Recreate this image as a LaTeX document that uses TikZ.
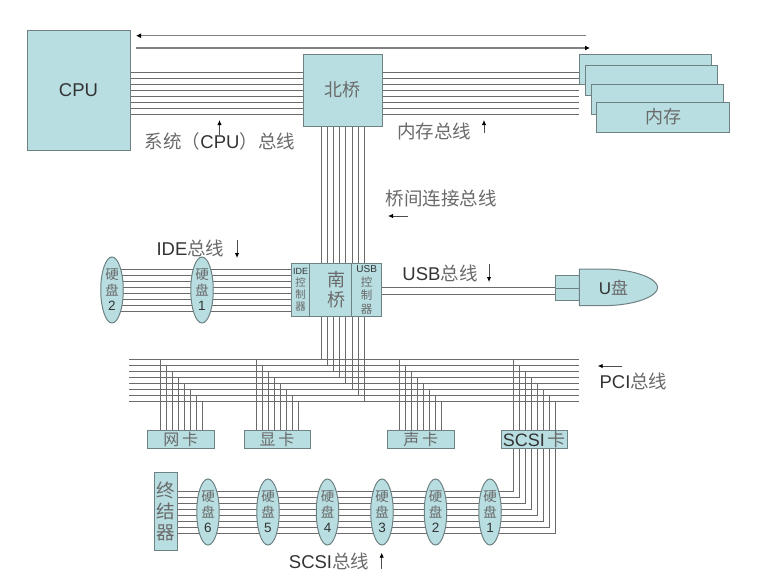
\documentclass[tikz,border=0pt]{standalone}
\usepackage{fontspec}
\setmainfont{Liberation Sans}
\newfontfamily\cjk{Noto Sans CJK SC}
\usetikzlibrary{shapes.geometric,backgrounds,arrows.meta}
\definecolor{boxfill}{HTML}{B8DEE1}
\definecolor{boxline}{HTML}{6E8284}
\definecolor{zhgray}{HTML}{6A6A6A}
\definecolor{engray}{HTML}{333333}
\newcommand{\zh}[1]{{\cjk\color{zhgray}#1}}
\newcommand{\fs}[1]{\fontsize{#1}{#1}\selectfont}
\tikzset{
	chip/.style={draw=boxline, fill=boxfill, line width=1pt, inner sep=0pt, text=engray},
	disk/.style={chip, ellipse, minimum width=22.5pt, minimum height=66pt, align=center, font=\fontsize{13.5}{15.5}\selectfont},
	busline/.style={draw=black!58, line width=0.9pt},
	farrow/.style={draw=black!50, line width=1.4pt, -{Latex[black,length=5pt,width=5pt]}},
	tick/.style={draw=black!70, line width=0.9pt, -{Latex[black,length=5pt,width=4.5pt]}},
	buslabel/.style={text=engray, inner sep=0pt, font=\fs{18.5}}
}
\begin{document}
\begin{tikzpicture}[x=1pt, y=-1pt]
\useasboundingbox (0,0) rectangle (757,579);
% top part
\node[chip, minimum width=103pt, minimum height=120pt, font=\fs{18.5}] (cpu) at (78.5,90) {CPU};
\node[chip, minimum width=79pt, minimum height=72pt, font=\fs{18}] (nbridge) at (342.5,90) {\raisebox{-2pt}{\zh{北桥}}};
\node[chip, minimum width=132pt, minimum height=30pt] (mem1) at (645,69) {};
\node[chip, minimum width=131.5pt, minimum height=30pt] (mem2) at (651.7,80.7) {};
\node[chip, minimum width=132pt, minimum height=30pt] (mem3) at (657.7,99) {};
\node[chip, minimum width=132.5pt, minimum height=30pt, font=\fs{18}] (mem4) at (663.2,117) {\raisebox{-2pt}{\zh{内存}}};
% south bridge
\node[chip, minimum width=90pt, minimum height=53.4pt, align=center, font=\fontsize{18}{20}\selectfont] (sbridge) at (336.7,290) {\zh{南}\\\zh{桥}};
\node[chip, minimum width=17.6pt, minimum height=53.4pt, align=center, font=\fontsize{10.5}{11.8}\selectfont] (idectl) at (300.5,290) {\fs{9}IDE\\\zh{控}\\\zh{制}\\\zh{器}};
\node[chip, minimum width=30pt, minimum height=53.4pt, align=center, font=\fontsize{11.5}{13.4}\selectfont] (usbctl) at (366.7,290) {\fs{10}USB\\\zh{控}\\\zh{制}\\\zh{器}};
% ide disks
\node[disk] (ide2) at (112,290) {\zh{硬}\\\zh{盘}\\2};
\node[disk] (ide1) at (202,290) {\zh{硬}\\\zh{盘}\\1};
% u disk
\node[chip, minimum width=23.6pt, minimum height=24.4pt] (uplug) at (567.5,287.9) {};
\draw[chip] (579.3,269) -- (602,269) .. controls (636,269) and (657.7,279) .. (657.7,287.5) .. controls (657.7,296) and (636,305.7) .. (602,305.7) -- (579.3,305.7) -- cycle;
\draw[boxline, line width=1pt] (uplug.west |- 0,288) -- (uplug.east |- 0,288);
\node[inner sep=0pt, text=engray, font=\fs{17}] (ulabel) at (613.5,288) {U\zh{盘}};
% cards
\node[chip, minimum width=66.7pt, minimum height=18.3pt, font=\fs{16}] (nic) at (180.7,439.8) {\zh{网\,卡}};
\node[chip, minimum width=66pt, minimum height=18.3pt, font=\fs{16}] (gpu) at (277,439.8) {\zh{显\,卡}};
\node[chip, minimum width=66.7pt, minimum height=18.3pt, font=\fs{16}] (snd) at (420.7,439.8) {\zh{声\,卡}};
\node[chip, minimum width=66pt, minimum height=18.3pt, font=\fs{18}] (scsi) at (534.3,439.8) {SCSI\,\zh{卡}};
% scsi disks
\node[chip, minimum width=23.7pt, minimum height=78.3pt, align=center, font=\fontsize{18.5}{21}\selectfont] (term) at (165.9,511.8) {\zh{终}\\\zh{结}\\\zh{器}};
\node[disk] (sd6) at (208,512) {\zh{硬}\\\zh{盘}\\6};
\node[disk] (sd5) at (268,512) {\zh{硬}\\\zh{盘}\\5};
\node[disk] (sd4) at (327.5,512) {\zh{硬}\\\zh{盘}\\4};
\node[disk] (sd3) at (382,512) {\zh{硬}\\\zh{盘}\\3};
\node[disk] (sd2) at (435.5,512) {\zh{硬}\\\zh{盘}\\2};
\node[disk] (sd1) at (490,512) {\zh{硬}\\\zh{盘}\\1};
% labels
\node[buslabel] (cpubus) at (220,141.5) {\zh{系统（}CPU\zh{）总线}};
\node[buslabel] (membus) at (434,131.7) {\zh{内存总线}};
\node[buslabel] (bridgebus) at (441,198) {\zh{桥间连接总线}};
\node[buslabel] (idebus) at (190.5,248) {IDE\zh{总线}};
\node[buslabel] (usbbus) at (440,273) {USB\zh{总线}};
\node[buslabel] (pcibus) at (633.5,381) {PCI\zh{总线}};
\node[buslabel] (scsibus) at (329,561.7) {SCSI\zh{总线}};
% free ends of the arrows
\coordinate (topa) at (586,35.7);
\coordinate (topb) at (136,35.7);
\coordinate (topc) at (136,48);
\coordinate (topd) at (590,48);
\coordinate (cpuarrow) at (219.5,120);
\coordinate (memarrow) at (484,120);
\coordinate (bridgearrow) at (388,216);
\coordinate (idearrow) at (237,258);
\coordinate (usbarrow) at (489,282);
\coordinate (pciarrow) at (597.7,366);
\coordinate (scsiarrow) at (381.7,552.7);
\draw[farrow] (topa) -- (topb);
\draw[farrow] (topc) -- (topd);
\draw[tick] (cpuarrow |- 0,135) -- (cpuarrow);
\draw[tick] (memarrow |- 0,133) -- (memarrow);
\draw[tick] (408,216) -- (bridgearrow);
\draw[tick] (idearrow |- 0,240) -- (idearrow);
\draw[tick] (usbarrow |- 0,264) -- (usbarrow);
\draw[tick] (622,366) -- (pciarrow);
\draw[tick] (scsiarrow |- 0,569) -- (scsiarrow);
% all the buses go behind the nodes
\begin{scope}[on background layer]
	\foreach \i [evaluate=\i as \yy using 72.3+6*\i] in {0,...,7} {
		\draw[busline] (cpu.east |- 0,\yy) -- (nbridge.west |- 0,\yy);
		\draw[busline] (nbridge.east |- 0,\yy) -- (mem1.west |- 0,\yy);
	}
	\foreach \i [evaluate=\i as \yy using 269+6*\i] in {0,...,7}
		\draw[busline] (ide2.center |- 0,\yy) -- (idectl.west |- 0,\yy);
	\draw[busline] (sbridge.east |- 0,287.3) -- (uplug.west |- 0,287.3);
	\draw[busline] (sbridge.east |- 0,294.3) -- (uplug.west |- 0,294.3);
	\foreach \i [evaluate=\i as \yy using 359+6*\i, evaluate=\i as \xx using 321.7+6.05*\i] in {0,...,7} {
		\draw[busline] (\xx,0 |- nbridge.south) -- (\xx,0 |- sbridge.north);
		\draw[busline] (\xx,0 |- sbridge.south) -- (\xx,\yy);
		\draw[busline] (129.3,\yy) -- (579.3,\yy);
	}
	% drops to the cards
	\foreach \i [evaluate=\i as \yy using 359+6*\i, evaluate=\i as \xa using 160+6*\i, evaluate=\i as \xb using 256+6*\i, evaluate=\i as \xc using 399.3+6*\i, evaluate=\i as \xd using 513.7+6*\i] in {0,...,7} {
		\draw[busline] (\xa,\yy) -- (nic.north -| \xa,0);
		\draw[busline] (\xb,\yy) -- (gpu.north -| \xb,0);
		\draw[busline] (\xc,\yy) -- (snd.north -| \xc,0);
		\draw[busline] (\xd,\yy) -- (scsi.north -| \xd,0);
	}
	\foreach \i [evaluate=\i as \yy using 491+6*\i, evaluate=\i as \xx using 513.7+6*\i] in {0,...,7}
		\draw[busline] (\xx,0 |- scsi.south) -- (\xx,\yy) -- (term.east |- 0,\yy);
\end{scope}
\end{tikzpicture}
\end{document}
